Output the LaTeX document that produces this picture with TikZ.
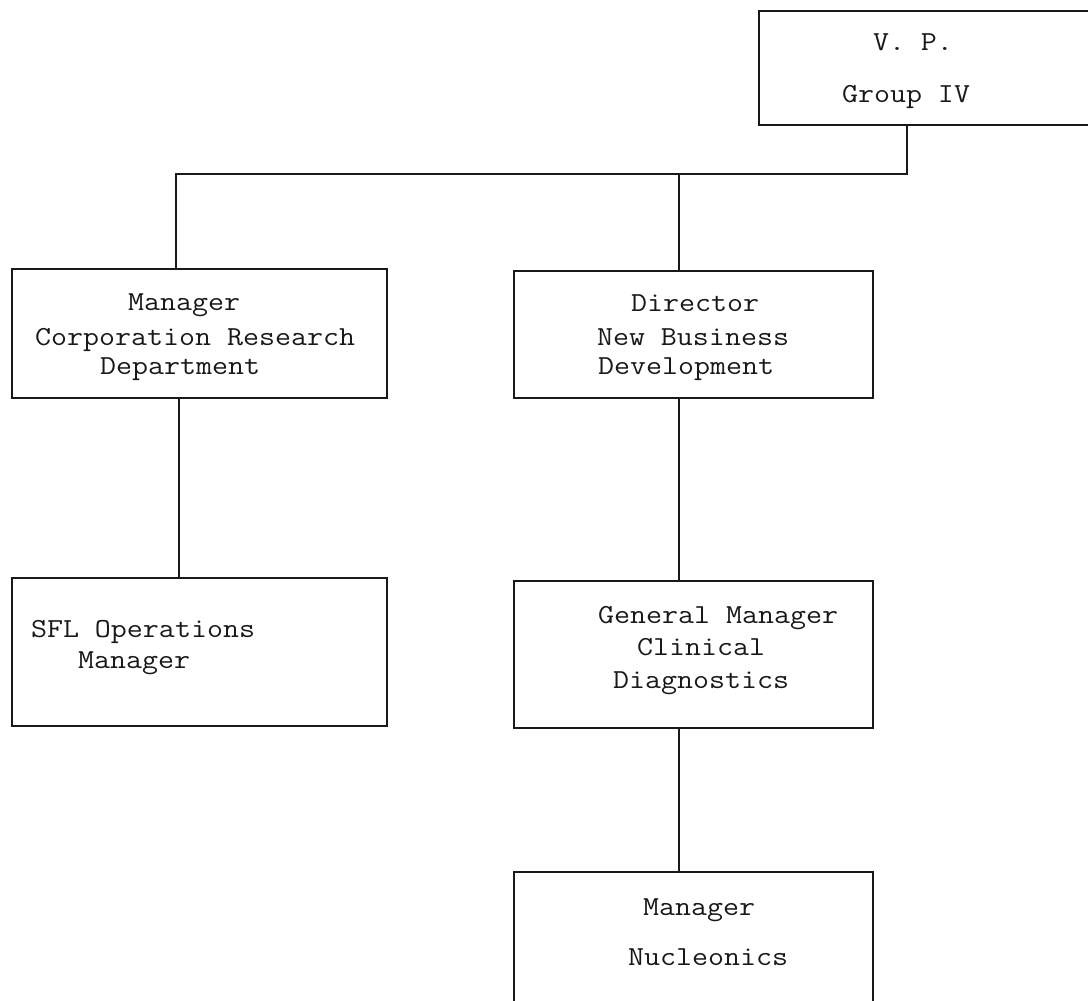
\documentclass[tikz,border=0pt]{standalone}
\usepackage{fontspec}
\setmonofont{Latin Modern Mono}[FakeStretch=1.13]
\begin{document}
\begin{tikzpicture}[x=1pt,y=-1pt,
  box/.style={draw=black!90, line width=1.9pt, rectangle, inner sep=0pt, outer sep=0pt, anchor=north west},
  conn/.style={draw=black!90, line width=1.3pt},
  lbl/.style={anchor=base west, inner sep=0pt, outer sep=0pt, font=\ttfamily\fontsize{27.5}{32}\selectfont, text=black!90}]
\useasboundingbox (0,0) rectangle (1088,1001);
\clip (0,0) rectangle (1088,1001);
% boxes
\node[box, minimum width=340pt, minimum height=114pt] (vp) at (759,11) {};
\node[box, minimum width=375pt, minimum height=129pt] (corp) at (12,269) {};
\node[box, minimum width=359pt, minimum height=127pt] (dir) at (514,271) {};
\node[box, minimum width=375pt, minimum height=148pt] (sfl) at (12,578) {};
\node[box, minimum width=359pt, minimum height=147pt] (gm) at (514,581) {};
\node[box, minimum width=359pt, minimum height=150pt] (nuc) at (514,872) {};
% labels
\node[lbl] (t1) at (873,50) {V. P.};
\node[lbl] (t2) at (842,102) {Group IV};
\node[lbl] (t3) at (128,310) {Manager};
\node[lbl] (t4) at (35,345) {Corporation Research};
\node[lbl] (t5) at (100,374) {Department};
\node[lbl] (t6) at (631,311) {Director};
\node[lbl] (t7) at (597,345) {New Business};
\node[lbl] (t8) at (598,374) {Development};
\node[lbl] (t9) at (31,637) {SFL Operations};
\node[lbl] (t10) at (78,668) {Manager};
\node[lbl] (t11) at (598,623) {General Manager};
\node[lbl] (t12) at (637,655) {Clinical};
\node[lbl] (t13) at (613,688) {Diagnostics};
\node[lbl] (t14) at (643,915) {Manager};
\node[lbl] (t15) at (628,965) {Nucleonics};
% connectors
\coordinate (jR) at (907,174);
\coordinate (jL) at (176,174);
\coordinate (jM) at (679,174);
\coordinate (cL) at (179,0);
\draw[conn] (vp.south -| jR) -- (jR) -- (jL) -- (corp.north -| jL);
\draw[conn] (jM) -- (dir.north -| jM);
\draw[conn] (corp.south -| cL) -- (sfl.north -| cL);
\draw[conn] (dir.south -| jM) -- (gm.north -| jM);
\draw[conn] (gm.south -| jM) -- (nuc.north -| jM);
\end{tikzpicture}
\end{document}
